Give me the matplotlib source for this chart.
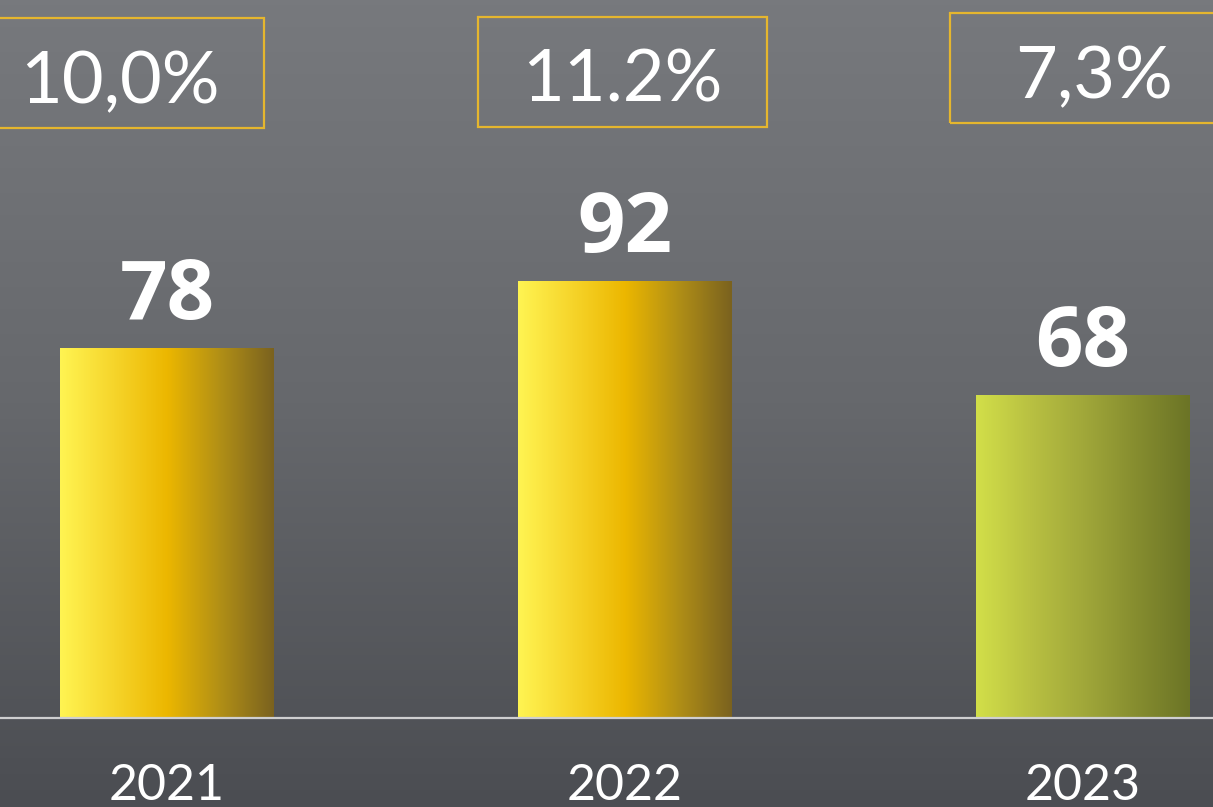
import numpy as np
import matplotlib
matplotlib.use("Agg")
import matplotlib.pyplot as plt
from matplotlib.patches import Rectangle
from matplotlib.colors import LinearSegmentedColormap

# ---- data ----
years = ["2021", "2022", "2023"]
values = [78, 92, 68]
growth_labels = ["10,0%", "11.2%", "7,3%"]

# ---- style / layout ----
W, H, DPI = 1213, 807, 100
bar_width = 214 / 458
x_pos = np.arange(len(years))
box_offsets = [-0.103, -0.006, 0.025]      # box centre offset from bar (data x)
box_tops_px = [18, 17, 13]
box_h_px = 110
box_w = 289 / 458
gold_yellow = ["#fff452", "#f6d52b", "#ecb700", "#b18f16", "#7a621f"]
olive = ["#d2df49", "#b9c142", "#a1a83a", "#868d2f", "#6b7426"]
bar_colors = [gold_yellow, gold_yellow, olive]

fig = plt.figure(figsize=(W / DPI, H / DPI), dpi=DPI)
ax = fig.add_axes([0, 0, 1, 1])
ax.set_axis_off()

px_per_unit = 4.75
base_px = 718
xmin = -167 / 458
xmax = (W - 167) / 458
ymax = base_px / px_per_unit
ymin = -(H - base_px) / px_per_unit
ax.set_xlim(xmin, xmax)
ax.set_ylim(ymin, ymax)

def py2y(py):
    return (base_px - py) / px_per_unit

# background vertical gradient
bg = LinearSegmentedColormap.from_list("bg", ["#77797d", "#66686c", "#4b4d52"])
grad = np.linspace(0, 1, 256).reshape(-1, 1)
ax.imshow(grad, cmap=bg, aspect="auto", extent=[xmin, xmax, ymin, ymax],
          origin="upper", zorder=0, interpolation="bicubic")

# bars with horizontal gradient
hgrad = np.linspace(0, 1, 256).reshape(1, -1)
bars = ax.bar(x_pos, values, width=bar_width, color="none", zorder=2)
for b, cols in zip(bars, bar_colors):
    cmap = LinearSegmentedColormap.from_list("b", cols)
    x0, y0 = b.get_x(), b.get_y()
    im = ax.imshow(hgrad, cmap=cmap, aspect="auto",
                   extent=[x0, x0 + b.get_width(), y0, y0 + b.get_height()],
                   zorder=2, interpolation="bicubic")
    im.set_clip_path(b)

# baseline
ax.axhline(0, color="#cfcfd0", lw=1.6, zorder=3)

# value labels
for x, v in zip(x_pos, values):
    ax.annotate(str(v), (x, v), xytext=(0, 29), textcoords="offset pixels",
                ha="center", va="baseline", color="white", fontsize=60,
                fontweight="bold", family="Open Sans", zorder=4)

# year labels
for x, yr in zip(x_pos, years):
    ax.text(x, py2y(800), yr, ha="center", va="baseline", color="white",
            fontsize=36, fontweight="normal", family="Lato", zorder=4)

# growth boxes
for x, off, top, lab in zip(x_pos, box_offsets, box_tops_px, growth_labels):
    cx = x + off
    y_top = py2y(top)
    y_bot = py2y(top + box_h_px)
    rect = Rectangle((cx - box_w / 2, y_bot), box_w, y_top - y_bot,
                     fill=False, edgecolor="#e5b62e", lw=1.6, zorder=4)
    ax.add_patch(rect)
    ax.text(cx, py2y(top + box_h_px - 25), lab, ha="center", va="baseline",
            color="white", fontsize=52, fontweight="normal", family="Lato",
            zorder=5)

fig.savefig("out.png", dpi=DPI)
